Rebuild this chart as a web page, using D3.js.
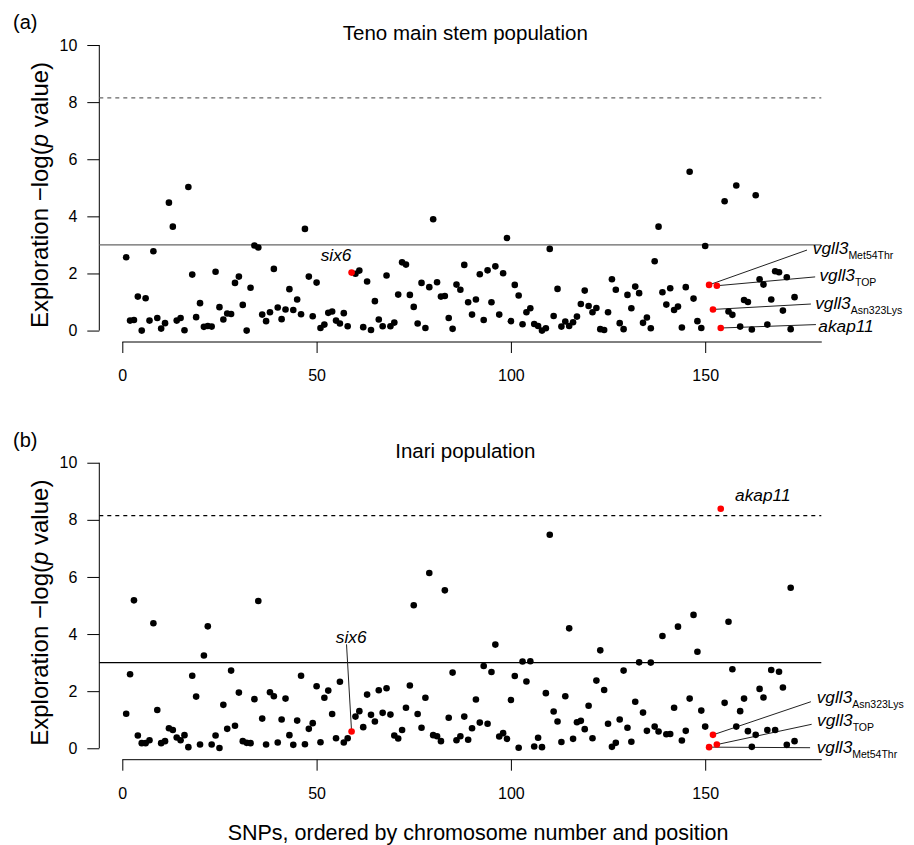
<!DOCTYPE html>
<html>
<head>
<meta charset="utf-8">
<script src="https://cdn.jsdelivr.net/npm/d3@7"></script>
<style>
  body { margin: 0; background: #fff; }
  svg { font-family: "Liberation Sans", Arial, Helvetica, sans-serif; }
</style>
</head>
<body>
<svg width="914" height="845"></svg>
<script>
// values, one per SNP (index 1..173)
var tenoValues = [
  2.57,0.35,0.37,1.19,0.00,1.13,0.35,2.78,0.44,0.07,
  0.26,4.48,3.64,0.35,0.44,0.01,5.03,1.96,0.47,0.96,
  0.13,0.16,0.14,2.06,0.82,0.39,0.60,0.58,1.67,1.89,
  0.90,0.00,1.50,2.98,2.91,0.56,0.33,0.64,2.16,0.81,
  0.40,0.74,1.45,0.72,1.09,0.57,3.56,1.89,0.50,1.68,
  0.09,0.21,0.62,0.67,0.35,0.25,0.61,0.15,2.03,1.99,
  2.10,0.12,1.72,0.02,1.03,0.39,0.15,1.93,0.15,0.28,
  1.26,2.39,2.31,1.25,0.83,0.25,1.67,0.09,1.52,3.90,
  1.69,1.19,1.21,0.44,0.06,1.61,1.43,2.30,0.99,0.56,
  1.09,1.97,0.37,2.11,0.99,2.25,0.56,2.01,3.24,0.33,
  1.60,1.23,0.22,0.64,0.78,0.23,0.16,0.00,0.08,2.86,
  0.51,1.46,0.14,0.32,0.16,0.29,0.49,0.93,1.40,0.86,
  0.64,0.79,0.05,0.02,0.64,1.80,1.43,0.26,0.05,1.25,
  0.78,1.54,1.31,0.27,0.46,0.08,2.43,3.64,1.34,0.91,
  1.48,0.72,0.84,0.11,1.52,5.56,1.12,0.33,0.09,2.96,
  1.60,0.74,1.57,0.09,4.53,0.67,0.55,5.08,0.14,1.07,
  1.00,0.04,4.74,1.80,1.61,0.21,1.09,2.08,2.04,0.70,
  1.87,0.05,1.17
];

var inariValues = [
  1.21,2.59,5.18,0.45,0.18,0.18,0.28,4.38,1.34,0.18,
  0.25,0.70,0.64,0.38,0.28,0.46,0.04,2.54,1.81,0.13,
  3.25,4.27,0.13,0.45,0.01,1.52,0.68,2.72,0.79,1.95,
  0.25,0.19,0.18,1.72,5.16,1.04,0.13,1.96,1.82,0.20,
  1.01,1.74,0.46,0.12,0.97,2.54,0.14,0.68,0.88,2.17,
  0.21,1.77,2.02,1.20,0.35,2.33,0.20,0.35,0.59,1.11,
  1.30,0.74,1.88,1.17,0.94,2.03,1.24,2.10,1.18,0.45,
  0.34,0.64,1.42,2.20,5.01,1.20,0.72,1.77,6.14,0.46,
  0.42,0.25,5.53,1.07,2.65,0.28,0.42,1.11,0.30,0.70,
  1.71,0.90,2.88,0.86,2.67,3.63,0.41,0.53,0.33,1.69,
  2.53,0.02,3.04,2.34,3.05,0.06,0.37,0.04,1.93,7.48,
  1.29,0.94,0.22,1.82,4.20,0.33,0.91,0.96,0.67,1.49,
  0.35,2.37,3.43,2.04,0.86,0.05,0.19,1.01,2.72,0.72,
  0.23,1.63,3.01,1.25,0.61,3.00,0.76,0.59,3.93,0.49,
  0.50,1.42,4.26,0.27,0.61,1.74,4.67,3.38,1.32,0.76,
  0.04,0.47,0.13,8.39,1.59,4.43,2.77,0.76,1.30,1.74,
  0.60,0.05,0.47,2.08,1.78,0.64,2.74,0.64,2.68,2.13,
  0.12,5.62,0.25
];

// candidate genes shown in red
var highlighted = [59, 151, 152, 153, 154];

var xTicks = [0, 50, 100, 150];
var yTicks = [0, 2, 4, 6, 8, 10];
var suggestiveLine = 3;
var significantLine = 8.15;

// gene annotations (text anchor and leader line end, in data units)
var tenoNotes = [
  { snp: 59,  name: 'six6',  sub: '',          tx: 55.0,  ty: 2.65, anchor: 'middle' },
  { snp: 151, name: 'vgll3', sub: 'Met54Thr',  tx: 177.7, ty: 2.91, ex: 176.2, ey: 2.82 },
  { snp: 153, name: 'vgll3', sub: 'TOP',       tx: 179.4, ty: 1.95, ex: 178.3, ey: 1.88 },
  { snp: 152, name: 'vgll3', sub: 'Asn323Lys', tx: 178.3, ty: 0.99, ex: 177.2, ey: 0.93 },
  { snp: 154, name: 'akap11', sub: '',         tx: 179.1, ty: 0.17, ex: 178.5, ey: 0.21 }
];

var inariNotes = [
  { snp: 59,  name: 'six6',  sub: '',          tx: 58.9,  ty: 3.91, ex: 57.7, ey: 3.64, anchor: 'middle' },
  { snp: 154, name: 'akap11', sub: '',         tx: 157.7, ty: 8.87 },
  { snp: 152, name: 'vgll3', sub: 'Asn323Lys', tx: 178.7, ty: 1.79, ex: 177.2, ey: 1.63 },
  { snp: 153, name: 'vgll3', sub: 'TOP',       tx: 178.8, ty: 0.98, ex: 177.4, ey: 0.84 },
  { snp: 151, name: 'vgll3', sub: 'Met54Thr',  tx: 178.7, ty: 0.06, ex: 177.0, ey: 0.02 }
];

var svg = d3.select('svg');

var x = d3.scaleLinear().domain([-5.92, 179.88]).range([99.3, 821.3]);
var y = d3.scaleLinear().domain([-0.4, 10.4]).range([342, 33.6]);

var drawPanel = function(offset, values, notes, opts) {
  var g = svg.append('g').attr('transform', 'translate(0,' + offset + ')');
  var data = values.map(function(v, i) {
    return { snp: i + 1, value: v, hot: highlighted.indexOf(i + 1) >= 0 };
  });

  // panel letter and title
  g.append('text')
    .attr('x', 13).attr('y', 29)
    .attr('font-size', 20)
    .text(opts.letter);
  g.append('text')
    .attr('x', (x.range()[0] + x.range()[1]) / 2 + 5).attr('y', 40)
    .attr('text-anchor', 'middle')
    .attr('font-size', 20.5)
    .text(opts.title);

  // y axis
  var yAxis = g.append('g')
    .attr('transform', 'translate(' + x.range()[0] + ',0)')
    .call(d3.axisLeft(y).tickValues(yTicks).tickSize(12).tickPadding(10).tickSizeOuter(0));
  yAxis.select('.domain').remove();
  yAxis.append('line')
    .attr('y1', y(0)).attr('y2', y(10))
    .attr('stroke', '#000');
  yAxis.selectAll('text')
    .attr('font-size', 16).attr('font-family', null).attr('fill', '#000');

  // x axis
  var xAxis = g.append('g')
    .attr('transform', 'translate(0,' + y.range()[0] + ')')
    .call(d3.axisBottom(x).tickValues(xTicks).tickSize(11).tickPadding(16.6).tickSizeOuter(0));
  xAxis.select('.domain').remove();
  xAxis.append('line')
    .attr('x1', x(0)).attr('x2', x(180))
    .attr('stroke', '#000');
  xAxis.selectAll('text')
    .attr('font-size', 16).attr('font-family', null).attr('fill', '#000');

  // y axis title
  var yt = g.append('text')
    .attr('transform', 'translate(48.3,195) rotate(-90)')
    .attr('text-anchor', 'middle')
    .attr('font-size', 24);
  yt.append('tspan').text('Exploration \u2212log(');
  yt.append('tspan').attr('font-style', 'italic').text('p');
  yt.append('tspan').text(' value)');

  // threshold lines
  g.append('line')
    .attr('x1', x.range()[0]).attr('x2', x.range()[1])
    .attr('y1', y(significantLine)).attr('y2', y(significantLine))
    .attr('stroke', opts.lineColor).attr('stroke-width', 1.2)
    .attr('stroke-dasharray', '4,4');
  g.append('line')
    .attr('x1', x.range()[0]).attr('x2', x.range()[1])
    .attr('y1', y(suggestiveLine)).attr('y2', y(suggestiveLine))
    .attr('stroke', opts.lineColor).attr('stroke-width', 1.3);

  // leader lines
  g.selectAll('line.leader')
    .data(notes.filter(function(n) { return n.ex !== undefined; }))
    .enter()
    .append('line')
      .attr('class', 'leader')
      .attr('x1', function(n) { return x(n.snp); })
      .attr('y1', function(n) { return y(values[n.snp - 1]); })
      .attr('x2', function(n) { return x(n.ex); })
      .attr('y2', function(n) { return y(n.ey); })
      .attr('stroke', '#222').attr('stroke-width', 1);

  // points: black first, red on top
  g.selectAll('circle')
    .data(data.filter(function(d) { return !d.hot; }).concat(data.filter(function(d) { return d.hot; })))
    .enter()
    .append('circle')
      .attr('cx', function(d) { return x(d.snp); })
      .attr('cy', function(d) { return y(d.value); })
      .attr('r', 3.3)
      .attr('fill', function(d) { return d.hot ? '#ff0000' : '#000'; });

  // gene labels
  var labels = g.selectAll('text.gene')
    .data(notes)
    .enter()
    .append('text')
      .attr('class', 'gene')
      .attr('x', function(n) { return x(n.tx); })
      .attr('y', function(n) { return y(n.ty) + 6.2; })
      .attr('text-anchor', function(n) { return n.anchor || 'start'; })
      .attr('font-size', 17.3);
  labels.append('tspan')
    .attr('font-style', 'italic')
    .text(function(n) { return n.name; });
  labels.filter(function(n) { return n.sub; })
    .append('tspan')
      .attr('font-size', 10.5)
      .attr('dy', 5)
      .text(function(n) { return n.sub; });
};

drawPanel(0, tenoValues, tenoNotes, { letter: '(a)', title: 'Teno main stem population', lineColor: '#666' });
drawPanel(417.7, inariValues, inariNotes, { letter: '(b)', title: 'Inari population', lineColor: '#000' });

svg.append('text')
  .attr('x', 478).attr('y', 840)
  .attr('text-anchor', 'middle')
  .attr('font-size', 21.5)
  .text('SNPs, ordered by chromosome number and position');
</script>
</body>
</html>
